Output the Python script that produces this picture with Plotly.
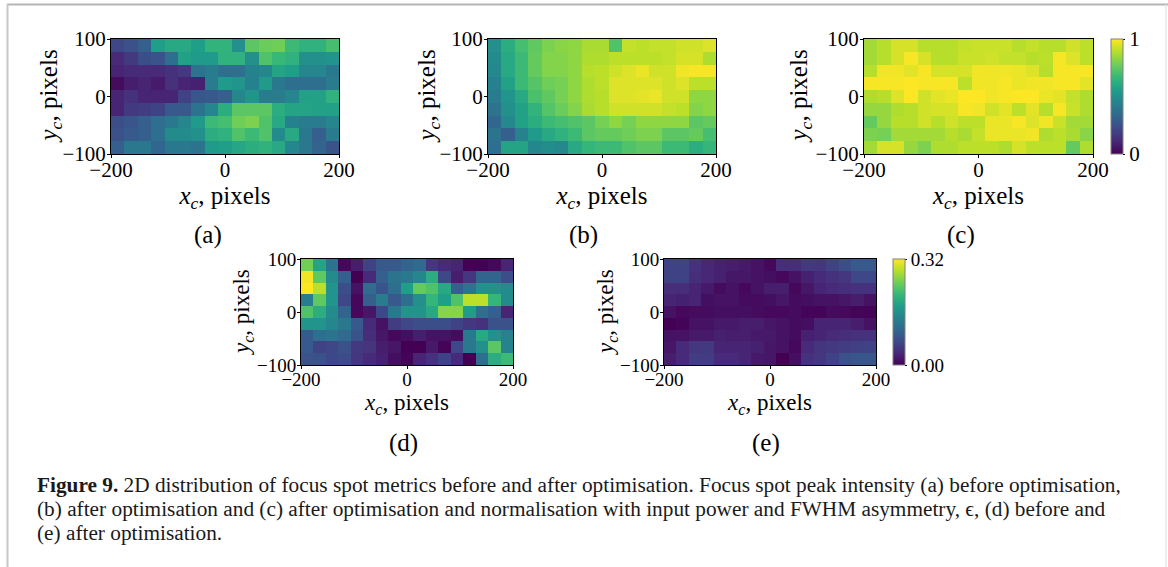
import plotly.graph_objects as go

W, H = 1168, 567
x_ticks = [-200, 0, 200]
y_ticks = [-100, 0, 100]
cell_x0, cell_dx = -188.235, 23.529
cell_y0, cell_dy = -88.889, 22.222

# rows are listed top (y=100) to bottom (y=-100)
panel_a = [
    [.22,.25,.30,.56,.60,.60,.56,.65,.65,.50,.74,.77,.78,.68,.64,.64,.70],
    [.12,.17,.24,.26,.36,.57,.54,.54,.64,.64,.50,.72,.67,.64,.50,.50,.52],
    [.10,.12,.12,.12,.14,.17,.38,.42,.36,.36,.44,.46,.58,.56,.46,.46,.40],
    [.03,.08,.10,.07,.14,.10,.09,.42,.54,.52,.44,.54,.40,.36,.36,.36,.42],
    [.10,.14,.10,.10,.10,.20,.27,.28,.30,.46,.52,.42,.42,.46,.57,.57,.64],
    [.10,.17,.18,.20,.28,.28,.38,.46,.62,.74,.74,.74,.62,.58,.58,.57,.57],
    [.24,.27,.30,.36,.40,.46,.54,.68,.70,.78,.80,.72,.60,.44,.42,.42,.46],
    [.25,.28,.30,.36,.48,.48,.50,.62,.64,.72,.68,.72,.48,.60,.40,.30,.42],
    [.30,.40,.40,.33,.40,.40,.38,.54,.56,.59,.62,.64,.60,.46,.40,.32,.26],
]
panel_b = [
    [.50,.62,.70,.75,.80,.82,.83,.87,.87,.72,.91,.90,.91,.91,.93,.93,.95],
    [.48,.60,.68,.76,.81,.81,.83,.88,.88,.90,.90,.90,.90,.91,.94,.94,.88],
    [.47,.60,.68,.76,.81,.81,.83,.89,.90,.93,.95,.97,.93,.93,.98,.99,.99],
    [.44,.57,.68,.73,.78,.79,.83,.88,.90,.95,.95,.95,.95,.93,.95,.90,.90],
    [.42,.52,.60,.71,.75,.79,.83,.88,.89,.95,.95,.96,.97,.93,.93,.83,.83],
    [.38,.50,.57,.65,.73,.77,.81,.87,.89,.93,.93,.93,.93,.91,.90,.81,.83],
    [.33,.47,.57,.62,.68,.70,.72,.74,.79,.83,.79,.83,.83,.83,.83,.74,.76],
    [.38,.30,.45,.54,.60,.64,.68,.74,.76,.76,.78,.80,.80,.74,.74,.76,.70],
    [.36,.58,.58,.46,.49,.47,.60,.66,.68,.68,.72,.74,.74,.68,.68,.62,.66],
]
panel_c = [
    [.86,.89,.94,.94,.89,.89,.89,.91,.92,.92,.92,.89,.91,.89,.89,.93,.90],
    [.86,.89,.94,.99,.94,.89,.89,.92,.92,.93,.91,.91,.89,.90,.99,.95,.90],
    [.89,.98,.98,.96,.99,.94,.94,.94,.98,.98,.98,.97,.95,.89,.99,.99,.99],
    [.99,.99,.99,1.0,.99,.99,.99,.90,.98,.98,.99,.97,.98,.98,.99,.99,.96],
    [.88,.89,.95,1.0,.93,.96,.97,1.0,1.0,.98,.99,1.0,1.0,.97,.96,.91,.88],
    [.84,.84,.88,.89,.93,.94,.94,.99,.98,.93,.96,.90,.96,.89,.99,.92,.88],
    [.76,.84,.89,.89,.93,.89,.93,.90,.90,.97,.97,.99,.95,.98,.92,.86,.86],
    [.80,.79,.86,.86,.86,.86,.89,.87,.91,.97,.97,.97,.98,.88,.90,.87,.82],
    [.86,.94,.94,.84,.80,.88,.88,.90,.90,.90,.88,.94,.90,.90,.90,.76,.88],
]
panel_d = [
    [.250,.186,.122,.006,.026,.064,.090,.090,.102,.109,.051,.038,.032,.000,.000,.006,.032],
    [.314,.240,.154,.096,.000,.038,.096,.122,.128,.147,.198,.070,.026,.051,.102,.102,.077],
    [.320,.288,.166,.077,.016,.112,.083,.115,.179,.243,.230,.192,.096,.122,.160,.160,.154],
    [.134,.240,.166,.070,.006,.096,.134,.090,.115,.160,.211,.179,.230,.288,.288,.211,.154],
    [.230,.198,.154,.102,.006,.019,.070,.128,.166,.166,.192,.262,.262,.176,.115,.096,.032],
    [.166,.166,.147,.128,.090,.038,.016,.058,.070,.077,.077,.077,.064,.051,.045,.080,.080],
    [.090,.115,.122,.109,.083,.042,.019,.006,.013,.026,.016,.016,.010,.128,.192,.160,.144],
    [.090,.064,.070,.080,.054,.048,.026,.019,.000,.000,.022,.003,.070,.128,.160,.237,.144],
    [.083,.080,.070,.074,.051,.038,.029,.013,.003,.032,.045,.064,.038,.000,.115,.198,.218],
]
panel_e = [
    [.064,.064,.045,.035,.029,.026,.022,.016,.006,.042,.042,.054,.051,.064,.077,.090,.090],
    [.064,.064,.042,.035,.029,.019,.019,.016,.013,.006,.016,.029,.038,.045,.051,.070,.070],
    [.042,.042,.032,.022,.010,.016,.006,.016,.026,.026,.006,.019,.032,.038,.042,.045,.045],
    [.032,.029,.032,.013,.016,.016,.010,.010,.013,.019,.010,.013,.016,.016,.019,.026,.016],
    [.016,.006,.010,.010,.013,.013,.013,.010,.006,.006,.010,.003,.003,.010,.006,.003,.003],
    [.000,.003,.016,.016,.022,.022,.026,.026,.019,.016,.010,.013,.032,.032,.032,.026,.016],
    [.016,.016,.022,.022,.029,.026,.026,.022,.022,.016,.010,.029,.032,.038,.042,.045,.045],
    [.019,.038,.051,.054,.032,.032,.032,.029,.019,.016,.006,.038,.048,.054,.058,.061,.064],
    [.026,.038,.058,.058,.038,.038,.032,.022,.019,.000,.013,.045,.051,.064,.080,.086,.086],
]

SERIF = "Liberation Serif"
fx = lambda p: p / W
fy = lambda p: 1 - p / H

# z, (left,right,top,bottom), zmax, tick font, title font, y title x, label, label centre x,y, cbar
panels = [
    (panel_a, (111, 339, 39, 154), 1.0, 21, 25, 50, "(a)", 208, 235, None),
    (panel_b, (488, 716, 39, 154), 1.0, 21, 25, 428, "(b)", 583, 235, None),
    (panel_c, (864, 1093, 39, 154), 1.0, 21, 25, 800, "(c)", 961, 235,
     dict(x=1111, ticks=[0, 1], text=["0", "1"])),
    (panel_d, (301, 513, 259, 365), 0.32, 19, 23, 243, "(d)", 403, 443, None),
    (panel_e, (664, 876, 259, 365), 0.32, 19, 23, 607, "(e)", 766, 443,
     dict(x=893, ticks=[0, 0.32], text=["0.00", "0.32"])),
]

fig = go.Figure()
layout = dict(
    width=W, height=H, margin=dict(l=0, r=0, t=0, b=0, pad=0, autoexpand=False),
    paper_bgcolor="white", plot_bgcolor="white", showlegend=False,
    font=dict(family=SERIF, color="black"),
)
annotations = []
for i, (z, (l, r, t, b), zmax, fs, ts, ytx, lab, lx, ly, cb) in enumerate(panels, start=1):
    sfx = "" if i == 1 else str(i)
    trace = dict(
        z=z[::-1], x0=cell_x0, dx=cell_dx, y0=cell_y0, dy=cell_dy,
        colorscale="Viridis", zmin=0, zmax=zmax, xaxis=f"x{sfx}", yaxis=f"y{sfx}",
        showscale=cb is not None, hoverinfo="skip",
    )
    if cb:
        trace["colorbar"] = dict(
            x=fx(cb["x"]), xanchor="left", xpad=0, ypad=0, thickness=12,
            thicknessmode="pixels", y=fy(b), yanchor="bottom",
            len=(b - t) / H, lenmode="fraction",
            tickmode="array", tickvals=cb["ticks"], ticktext=cb["text"],
            ticks="outside", ticklen=2, tickwidth=1, tickcolor="black",
            tickfont=dict(family=SERIF, size=fs, color="black"),
            outlinecolor="#808080", outlinewidth=1,
        )
    fig.add_trace(go.Heatmap(**trace))
    common = dict(
        showline=True, linecolor="black", linewidth=1, mirror=True, showgrid=False,
        zeroline=False, ticks="outside", ticklen=3, tickwidth=1, tickcolor="black",
        tickmode="array", tickangle=0, tickfont=dict(family=SERIF, size=fs, color="black"),
    )
    xa = dict(common, domain=[fx(l), fx(r)], range=[-200, 200], tickvals=x_ticks,
              anchor=f"y{sfx}", ticklabelstandoff=-6)
    ya = dict(common, domain=[fy(b), fy(t)], range=[-100, 100], tickvals=y_ticks,
              anchor=f"x{sfx}", ticklabelstandoff=-3)
    xa["title"] = dict(font=dict(family=SERIF, size=ts, color="black"),
                       text="<i>x<sub>c</sub></i>, pixels", standoff=0)
    layout[f"xaxis{sfx}"] = xa
    layout[f"yaxis{sfx}"] = ya
    annotations.append(dict(
        text="<i>y<sub>c</sub></i>, pixels", x=fx(ytx), y=fy((t + b) / 2), xref="paper",
        yref="paper", xanchor="center", yanchor="middle", textangle=-90, showarrow=False,
        font=dict(family=SERIF, size=ts, color="black"),
    ))
    annotations.append(dict(
        text=lab, x=fx(lx), y=fy(ly), xref="paper", yref="paper", xanchor="center",
        yanchor="middle", showarrow=False, font=dict(family=SERIF, size=25, color="black"),
    ))

caption_lines = [
    "<b>Figure 9.</b> 2D distribution of focus spot metrics before and after optimisation. "
    "Focus spot peak intensity (a) before optimisation,",
    "(b) after optimisation and (c) after optimisation and normalisation with input power "
    "and FWHM asymmetry, \u03f5, (d) before and",
    "(e) after optimisation.",
]
caption_y = [485, 509, 533]
for line, py in zip(caption_lines, caption_y):
    annotations.append(dict(
        text=line, x=fx(35), y=fy(py), xref="paper", yref="paper", xanchor="left",
        yanchor="middle", showarrow=False, font=dict(family=SERIF, size=21.3, color="#1a1a1a"),
    ))
layout["annotations"] = annotations
layout["shapes"] = [
    dict(type="line", xref="paper", yref="paper", x0=fx(7), x1=1, y0=fy(4.5), y1=fy(4.5),
         line=dict(color="#b5b5b5", width=2)),
    dict(type="line", xref="paper", yref="paper", x0=fx(7.5), x1=fx(7.5), y0=0, y1=fy(4),
         line=dict(color="#c8c8c8", width=2)),
    dict(type="line", xref="paper", yref="paper", x0=fx(1166), x1=fx(1166), y0=0, y1=fy(4),
         line=dict(color="#dcdcdc", width=1)),
]
fig.update_layout(**layout)
fig.write_html("out.html", config=dict(displayModeBar=False),
               post_script="document.body.style.margin='0';document.body.style.overflow='hidden';")
